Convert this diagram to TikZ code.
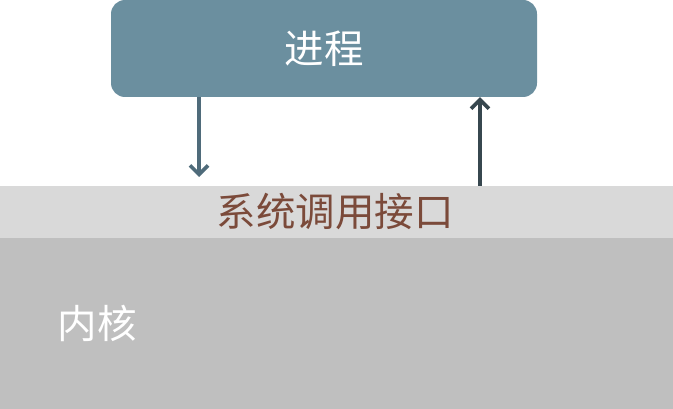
\documentclass[tikz,border=0pt]{standalone}
\usepackage{fontspec}
\newfontfamily\cjk{Noto Sans CJK SC}
\usetikzlibrary{arrows.meta}
\definecolor{procfill}{HTML}{6B8F9F}
\definecolor{downcol}{HTML}{4F6B7A}
\definecolor{upcol}{HTML}{37474F}
\definecolor{bandfill}{HTML}{D9D9D9}
\definecolor{kernfill}{HTML}{BFBFBF}
\definecolor{bandtext}{HTML}{7B4A3A}
\tikzset{
  lbl/.style={font=\cjk\fontsize{39.5}{45}\selectfont, inner sep=0pt},
  conn/.style={line width=3.6pt, -{Straight Barb[length=9pt,width=18pt,line width=3.6pt]}},
}
\begin{document}
\begin{tikzpicture}[x=1pt,y=-1pt]
\useasboundingbox (0,0) rectangle (673,409);
% kernel and band
\fill[kernfill] (0,238) rectangle (673,409);
\fill[bandfill] (0,186) rectangle (673,238);
\node[lbl, text=white] (kernel) at (97,323) {内核};
\node[lbl, text=bandtext] (sci) at (335,212) {系统调用接口};
% process box
\node[fill=procfill, rounded corners=14pt, minimum width=426pt, minimum height=97pt, inner sep=0pt] (proc) at (324,48.5) {};
\node[lbl, text=white] (proclbl) at (proc.center) {进程};
\coordinate (downend) at (199,177);
\coordinate (upstart) at (480,186);
\draw[conn, downcol] (proc.south -| downend) -- (downend);
\draw[conn, upcol] (upstart) -- (upstart |- proc.south);
\end{tikzpicture}
\end{document}
